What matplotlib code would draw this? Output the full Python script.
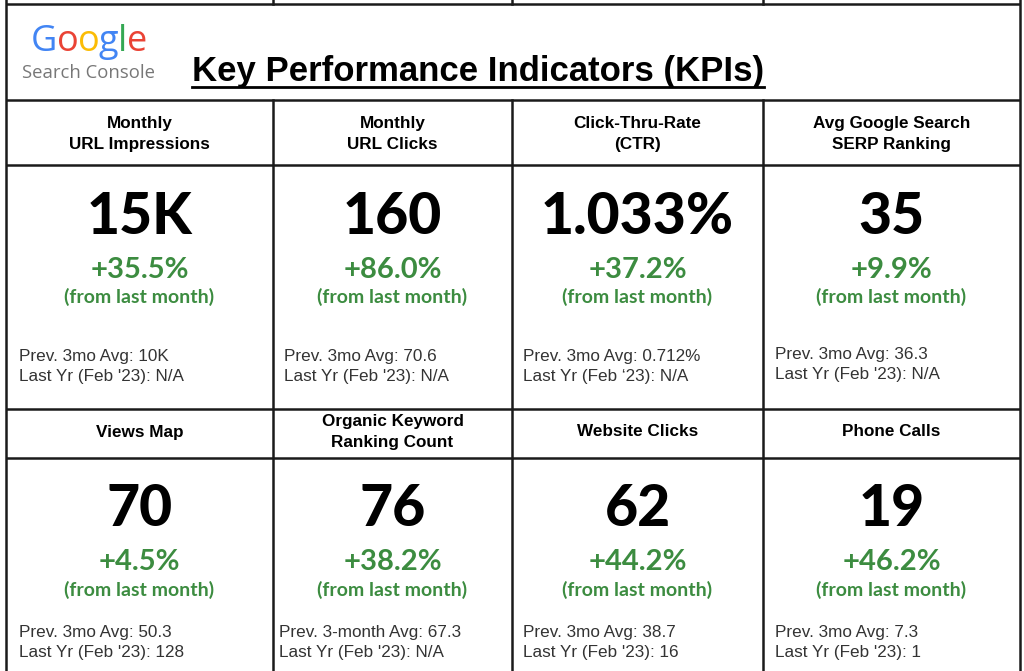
import numpy as np
import matplotlib.pyplot as plt
from matplotlib import font_manager

# KPI card data (Google Search Console, Feb '24)

headers = ['Monthly\nURL Impressions', 'Monthly\nURL Clicks', 'Click-Thru-Rate\n(CTR)',
           'Avg Google Search\nSERP Ranking', 'Views Map', 'Organic Keyword\nRanking Count',
           'Website Clicks', 'Phone Calls']
values = ['15K', '160', '1.033%', '35', '70', '76', '62', '19']
changes = ['+35.5%', '+86.0%', '+37.2%', '+9.9%', '+4.5%', '+38.2%', '+44.2%', '+46.2%']
prev_avg = ['Prev. 3mo Avg: 10K', 'Prev. 3mo Avg: 70.6', 'Prev. 3mo Avg: 0.712%',
            'Prev. 3mo Avg: 36.3', 'Prev. 3mo Avg: 50.3', 'Prev. 3-month Avg: 67.3',
            'Prev. 3mo Avg: 38.7', 'Prev. 3mo Avg: 7.3']
last_yr = ["Last Yr (Feb '23): N/A", "Last Yr (Feb '23): N/A", "Last Yr (Feb \u201823): N/A",
           "Last Yr (Feb '23): N/A", "Last Yr (Feb '23): 128", "Last Yr (Feb '23): N/A",
           "Last Yr (Feb '23): 16", "Last Yr (Feb '23): 1"]

names = {f.name for f in font_manager.fontManager.ttflist}
big_font = 'Lato' if 'Lato' in names else 'DejaVu Sans'
sans = 'Liberation Sans'
green = '#3c8c40'

fig = plt.figure(figsize=(10.24, 6.71), dpi=100)
ax = fig.add_axes([0, 0, 1, 1])
ax.set_xlim(0, 1024)
ax.set_ylim(671, 0)
ax.axis('off')

# grid
xs = [6, 273, 512, 763, 1020]
lw = 1.8
lc = '#1a1a1a'
for y in [4, 100, 165, 409, 458]:
    ax.plot([6, 1020], [y, y], color=lc, lw=lw, solid_capstyle='butt')
ax.plot([6, 6], [0, 671], color=lc, lw=lw)
ax.plot([1020, 1020], [0, 671], color=lc, lw=lw)
for x in xs[1:4]:
    ax.plot([x, x], [0, 4], color=lc, lw=lw)
    ax.plot([x, x], [100, 671], color=lc, lw=lw)

# Google Search Console logo
g_letters = ['G', 'o', 'o', 'g', 'l', 'e']
g_colors = ['#4285F4', '#EA4335', '#FBBC05', '#4285F4', '#34A853', '#EA4335']
fig.canvas.draw()
r = fig.canvas.get_renderer()
x0 = 31
for ch, c in zip(g_letters, g_colors):
    t = ax.text(x0, 42, ch, color=c, fontsize=26, family='Open Sans', va='center', ha='left')
    bb = t.get_window_extent(renderer=r)
    x0 += bb.width * 0.97
ax.text(89, 73, 'Search Console', color='#777777', fontsize=13.3, family='Open Sans',
        va='center', ha='center')

# title
tt = ax.text(478, 71, 'Key Performance Indicators (KPIs)', fontsize=25, family=sans,
             weight='bold', ha='center', va='center')
bb = tt.get_window_extent(renderer=r)
ax.plot([bb.x0, bb.x1], [87, 87], color='black', lw=2)

centers = [(xs[i] + xs[i + 1]) / 2 for i in range(4)]
left_x = [[19, 284, 523, 775], [19, 279, 523, 775]]

for k in range(8):
    row, col = divmod(k, 4)
    cx = centers[col]
    if row == 0:
        hy, vy, cy, fy, py = 134, 218, 270, 297, 357
        if col == 3:
            py = 354
    else:
        hy, vy, cy, fy, py = 432, 510, 562, 590, 632
    ax.text(cx, hy, headers[k], fontsize=12.3, family=sans, weight='bold', ha='center',
            va='center', linespacing=1.45)
    ax.text(cx, vy, values[k], fontsize=41, family=big_font, weight='black',
            ha='center', va='center')
    ax.text(cx, cy, changes[k], fontsize=21, family=big_font, weight='bold', color=green,
            ha='center', va='center')
    ax.text(cx, fy, '(from last month)', fontsize=14, family=big_font, weight='bold',
            color=green, ha='center', va='center')
    ax.text(left_x[row][col], py, prev_avg[k], fontsize=12.3, family=sans, color='#333333',
            ha='left', va='center')
    ax.text(left_x[row][col], py + 20, last_yr[k], fontsize=12.3, family=sans, color='#333333',
            ha='left', va='center')

fig.savefig('out.png', dpi=100)
